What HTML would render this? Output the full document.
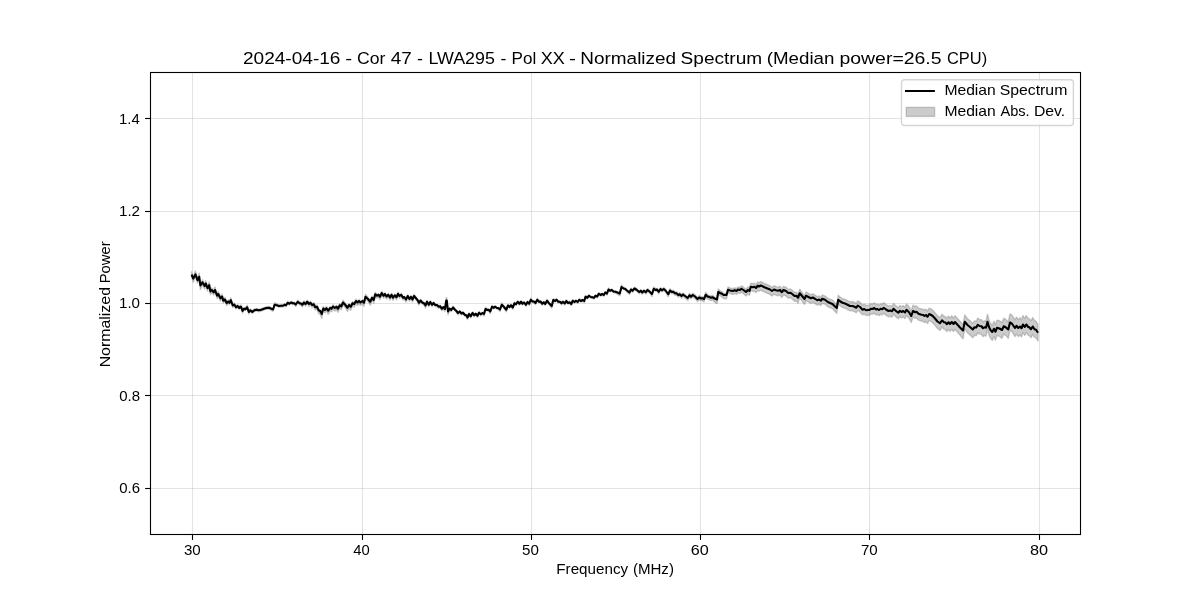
<!DOCTYPE html>
<html><head><meta charset="utf-8"><title>Normalized Spectrum</title><style>
html,body{margin:0;padding:0;background:#fff;width:1200px;height:600px;overflow:hidden}
svg{display:block;will-change:transform}
text{font-family:"Liberation Sans",sans-serif;fill:#000}
</style></head><body>
<svg width="1200" height="600" viewBox="0 0 1200 600">
<rect x="0" y="0" width="1200" height="600" fill="#fff"/>
<g stroke="#b0b0b0" stroke-opacity="0.35" stroke-width="1.1" fill="none">
<line x1="192.5" y1="72" x2="192.5" y2="535"/>
<line x1="362.5" y1="72" x2="362.5" y2="535"/>
<line x1="531.5" y1="72" x2="531.5" y2="535"/>
<line x1="700.5" y1="72" x2="700.5" y2="535"/>
<line x1="869.5" y1="72" x2="869.5" y2="535"/>
<line x1="1039.5" y1="72" x2="1039.5" y2="535"/>
<line x1="150" y1="118.5" x2="1081" y2="118.5"/>
<line x1="150" y1="211.5" x2="1081" y2="211.5"/>
<line x1="150" y1="303.5" x2="1081" y2="303.5"/>
<line x1="150" y1="395.5" x2="1081" y2="395.5"/>
<line x1="150" y1="488.5" x2="1081" y2="488.5"/>
</g>
<path d="M191.6,271.61 L193.3,277.23 L195.4,270.96 L197.5,278.19 L199.2,273.21 L200.4,284.71 L202.5,279.75 L204.6,284.08 L205.8,280.58 L207.5,286.31 L209.2,281.96 L210.4,289.94 L211.7,287.85 L213.75,290.26 L215,286.85 L217.1,294.12 L218.3,291.61 L220.4,296.73 L222.1,294.12 L223.3,299.18 L225,297.45 L226.7,302.05 L228.3,300.06 L229.5,301.32 L230.8,297.63 L232.75,304.67 L234.25,303.09 L236,306.3 L237.5,304.49 L239.25,306.88 L240,305.43 L241,304.98 L242.5,310.5 L244,307.62 L245.5,307.81 L247.2,305.21 L248.8,311.53 L250.3,309.09 L252.3,310.89 L254.3,309.03 L256.7,308.51 L258.7,309.3 L261.3,308.63 L264,307.55 L266.3,306.84 L269.3,306.47 L271.3,308.06 L273,309.1 L274.7,302.77 L276.7,303.75 L279,305.12 L281,304.82 L283,304.83 L284.5,303.69 L286,304.53 L287.75,301.3 L289.25,302.8 L291,301.21 L292.75,302.11 L294.25,302.26 L295.75,303.93 L297.75,300.08 L299.5,302.04 L301,302.52 L302.25,304.06 L304,301.03 L305.5,303.05 L307.25,300.06 L309,302.96 L310.5,301.18 L312,303.86 L313.75,302.58 L315.25,306.12 L317,304.93 L318.75,309.35 L320.25,309.93 L321.75,313.84 L323.25,306.38 L325,308.48 L326.5,306.52 L328.25,309.97 L330,306.43 L331.5,307.49 L333,304.68 L334.75,306.7 L336.5,305.23 L338,308.01 L339.75,303.58 L341.25,305.49 L343,300.26 L345,302.81 L347.5,307.02 L349,303.43 L350.75,305.9 L352.5,301.59 L354.25,302.83 L356,299.14 L357.5,301.29 L359,299.46 L360.5,301.42 L362.5,299.8 L364,302.39 L365.5,294.31 L368,297.55 L370.25,301.36 L372,296.26 L373.75,299.64 L375.25,292.24 L377,294.41 L378.5,293.58 L380,296.24 L381.75,291.2 L383.5,294.88 L385,292.62 L386.5,295.74 L388.25,293.41 L390,296.93 L391.5,293.23 L393,297.19 L394.75,294.03 L396.5,296.71 L398,292.11 L399.5,295.04 L401.25,293.34 L403,297.05 L404.25,296.02 L406,299.16 L407.75,294.41 L409.5,298.37 L411,295.54 L412.5,299.17 L414,294.28 L416,296.93 L417.5,299.28 L419,302.58 L420.5,299.11 L422.25,301.45 L424,302.57 L425.5,305.35 L427,300.23 L428.75,304.25 L430.25,300.66 L432,304.2 L433.5,301.78 L435.25,304.18 L437,304.07 L438.75,306.05 L440.25,305.21 L441.75,308.35 L443.5,306.77 L445,309.2 L446.2,297.67 L446.8,297.67 L448,312.47 L449.5,308.44 L451.25,309.38 L453,305.99 L455,308.75 L456.5,310.36 L458,312.66 L459.75,310.38 L461.5,312.85 L463,311.65 L464.75,313.95 L466.25,314.6 L467.5,317.43 L469,312.75 L470.75,315.84 L472.5,311.66 L474.25,314.62 L475.75,312.82 L477.5,315.47 L479,311.52 L480.75,313.56 L482.5,312.35 L484,313.92 L485.5,307.4 L487.25,308.88 L488.75,309.08 L490.25,311.57 L492,305.3 L493.5,306.8 L495.25,305.69 L497,307.2 L498.25,307.42 L500,309.46 L501.75,303 L504,306.09 L506.25,309.85 L508,304.18 L509.5,306.2 L511,304.28 L512.75,307.46 L514.5,302.03 L516,303.51 L517.75,300.51 L519.5,303.21 L521,300.6 L522.5,303.12 L524,301.53 L526,304.46 L527.5,301 L529.25,303.46 L530.75,298.24 L532.5,300.55 L534,300.85 L535.5,302.75 L537.25,298.31 L539,300.88 L540.5,300.59 L542.25,303.35 L543.75,301.38 L545.25,303.64 L547,299.29 L549,302.36 L551.75,306.45 L553.25,298.59 L555,299.95 L556.5,298.55 L558.25,301.04 L560,300.99 L561.5,302.76 L563,300.77 L564.75,303.06 L566.25,299.73 L568,302.29 L569.5,301.47 L571.25,303.78 L572.75,299.52 L574.5,301.24 L576,299.84 L577.75,301.53 L579.25,298.61 L581,300.29 L582.75,299.31 L584.25,300.81 L585.5,295.41 L587.25,296.99 L589,294.53 L590.75,296.16 L592.5,296.65 L594,297.27 L595.5,294.79 L597.25,295.97 L598.75,292.5 L600.5,294.25 L602.25,293.17 L603.75,294.54 L605.25,291.53 L607,293.11 L608.5,288.03 L610,289.79 L611.75,288.89 L613.5,290.7 L615.5,290.98 L617.5,292.06 L619.75,293.72 L621.5,285 L623.5,287.17 L625,287.85 L627,289.76 L629.5,292.15 L631,288.24 L632.5,289.98 L634.5,287.13 L636.5,288.59 L639.25,291.27 L640.75,289.48 L642.25,291.79 L644,289.55 L645.75,291.52 L647.5,288.56 L649.5,290.3 L652,293.98 L653.75,287.04 L655.5,288.64 L657,288.31 L658.75,291.24 L660.5,287.57 L662,289.17 L663.75,287.6 L665.5,289.14 L668.25,293.89 L670,288.68 L671.75,290.6 L673.25,290.31 L675,292 L676.5,291.81 L678.25,293.86 L679.75,292.73 L681.5,294.88 L683,292.81 L685,294.48 L687.75,297.01 L689.5,293.36 L691,295.34 L692.75,293.1 L695,294.77 L697.5,297.73 L699.25,295.53 L701,296.8 L702.5,296.73 L704,297.78 L705.75,292.19 L707.5,294.52 L709.25,295.27 L711,295.99 L712.5,295.25 L714.5,297.03 L717,298.65 L718.25,289.06 L720,290.53 L722,291.78 L723.5,293.12 L726.5,293.44 L728,287 L730,287.93 L732.75,288.69 L734.75,287.76 L736.5,288.65 L738,286.87 L740,287.42 L741.5,285.87 L743.75,287.43 L746,289.27 L748,286.93 L749.5,288.13 L750.75,283.22 L753,283.75 L754.5,283.25 L756,284.63 L757.75,281.97 L759,282.77 L760.75,281.62 L763,282.73 L765,283.75 L767.5,284.77 L770,285.78 L772,287.46 L774,285.73 L776,286.6 L778,287.16 L780,286.3 L781.75,288.88 L783.5,286.28 L786,287.35 L788.25,289.51 L790.5,288.96 L792.5,290.58 L794.5,292.5 L796.5,292.2 L798,294.45 L799.75,289.28 L802,292.35 L804.5,295.71 L806,291.97 L808.5,293.32 L810.75,294.75 L812.75,293.8 L815,295.11 L817.25,296.72 L819,295.88 L820.75,297.29 L822.25,295.01 L825,296.1 L827.5,298.12 L830,299.27 L832.5,300.12 L835,302.91 L836.75,304.69 L838.25,295.16 L840,296.98 L842.5,298.7 L845,299.31 L847.5,300.52 L850,301.76 L852.5,301.52 L854.5,302.33 L856.25,303.4 L857.75,300.74 L860,302.28 L862.5,305.12 L864.25,304.09 L866,305.46 L868,305.13 L869.5,305.08 L870.75,303.69 L872.5,304 L874.25,302.89 L876,304.59 L877.5,304.03 L879,305.15 L880.75,303.77 L882.25,304.34 L883.75,302.66 L886,304.6 L888.5,306.16 L890.25,305.61 L892,306.39 L893.5,303.48 L896,305.9 L898.25,307.73 L900,305.39 L901.5,306.73 L903.25,305.61 L905,307.22 L906.5,304.03 L909,306.68 L911.25,310.85 L913,305.11 L915,306.48 L916.5,306 L918.5,308.13 L921.5,308.98 L923.5,309.15 L924.5,310.28 L926,309.15 L927.5,311.16 L929.25,307.99 L932.5,309.9 L935,312.69 L937.5,315.76 L940,317.67 L942,314.13 L944,316.31 L945.5,316.59 L946.75,318.46 L948.5,316.12 L950,318.06 L951.75,315.78 L953.5,317.96 L955,315.65 L957.5,318.54 L960,321.19 L963,324.77 L964.75,314.83 L967.5,318.73 L970,320.62 L972.75,323.39 L974.5,320.88 L976.25,321.19 L977.75,318.12 L979.5,319.52 L981.5,319.72 L983,321.84 L984.5,320.73 L986,321.19 L987.5,314.15 L989,319.95 L990.5,323.29 L992.25,325.18 L994,321.31 L995.5,324.72 L997,320.11 L999.5,320.78 L1002,322.58 L1003.75,318.19 L1006,319.62 L1008.25,322 L1010,313.85 L1012,315.16 L1015,319.82 L1016.5,317.05 L1018.25,319.5 L1020,317.79 L1021.5,319.77 L1023,315.57 L1024.75,318.45 L1026.25,315.6 L1028,318.06 L1029.5,318.94 L1031,320.82 L1032.75,317.58 L1034.5,320.59 L1036,321.17 L1038,324.47 L1038,341.07 L1036,337.83 L1034.5,337.31 L1032.75,334.35 L1031,337.65 L1029.5,335.83 L1028,334.99 L1026.25,332.59 L1024.75,335.49 L1023,332.67 L1021.5,336.92 L1020,334.99 L1018.25,336.56 L1016.5,333.97 L1015,336.62 L1012,331.72 L1010,330.25 L1008.25,338.26 L1006,335.7 L1003.75,334.09 L1002,338.34 L999.5,336.36 L997,335.56 L995.5,340.1 L994,336.62 L992.25,340.39 L990.5,338.41 L989,335 L987.5,329.12 L986,336.09 L984.5,335.55 L983,336.59 L981.5,334.4 L979.5,334.1 L977.75,332.64 L976.25,335.66 L974.5,335.29 L972.75,337.74 L970,334.88 L967.5,332.89 L964.75,328.89 L963,338.78 L960,335.09 L957.5,332.3 L955,329.27 L953.5,331.5 L951.75,329.23 L950,331.41 L948.5,329.39 L946.75,331.63 L945.5,329.69 L944,329.33 L942,327.04 L940,330.47 L937.5,328.5 L935,325.35 L932.5,322.5 L929.25,320.51 L927.5,323.63 L926,321.57 L924.5,322.65 L923.5,321.47 L921.5,321.19 L918.5,320.18 L916.5,317.94 L915,318.34 L913,316.87 L911.25,322.52 L909,318.23 L906.5,315.47 L905,318.6 L903.25,316.9 L901.5,317.94 L900,316.54 L898.25,318.8 L896,316.88 L893.5,314.34 L892,317.18 L890.25,316.32 L888.5,316.82 L886,315.2 L883.75,313.2 L882.25,314.85 L880.75,314.24 L879,315.58 L877.5,314.42 L876,314.94 L874.25,313.2 L872.5,314.27 L870.75,313.91 L869.5,315.25 L868,315.22 L866,315.44 L864.25,313.97 L862.5,314.91 L860,311.93 L857.75,310.27 L856.25,312.85 L854.5,311.68 L852.5,310.76 L850,310.86 L847.5,309.53 L845,308.24 L842.5,307.53 L840,305.72 L838.25,303.84 L836.75,313.31 L835,311.47 L832.5,308.59 L830,307.65 L827.5,306.41 L825,304.3 L822.25,303.28 L820.75,305.59 L819,304.23 L817.25,305.1 L815,303.55 L812.75,302.29 L810.75,303.29 L808.5,301.92 L806,300.63 L804.5,304.4 L802,301.1 L799.75,298.08 L798,303.23 L796.5,300.97 L794.5,301.25 L792.5,299.31 L790.5,297.67 L788.25,298.19 L786,296.01 L783.5,294.91 L781.75,297.49 L780,294.9 L778,295.76 L776,295.2 L774,294.33 L772,296.06 L770,294.38 L767.5,293.38 L765,292.35 L763,291.33 L760.75,290.22 L759,291.24 L757.75,290.27 L756,292.71 L754.5,291.14 L753,291.44 L750.75,290.61 L749.5,295.36 L748,293.97 L746,296.05 L743.75,293.91 L741.5,292.07 L740,293.42 L738,292.79 L736.5,294.51 L734.75,293.55 L732.75,294.4 L730,293.53 L728,292.52 L726.5,298.9 L723.5,298.46 L722,297.06 L720,295.73 L718.25,294.15 L717,303.67 L714.5,301.9 L712.5,300 L711,300.65 L709.25,299.83 L707.5,298.97 L705.75,296.53 L704,302.02 L702.5,300.88 L701,300.86 L699.25,299.5 L697.5,301.65 L695,298.6 L692.75,296.87 L691,299.05 L689.5,297.02 L687.75,300.61 L685,297.99 L683,296.26 L681.5,298.28 L679.75,296.07 L678.25,297.15 L676.5,295.05 L675,295.18 L673.25,293.44 L671.75,293.68 L670,291.7 L668.25,296.86 L665.5,292.02 L663.75,290.42 L662,291.94 L660.5,290.29 L658.75,293.92 L657,290.97 L655.5,291.28 L653.75,289.66 L652,296.58 L649.5,292.86 L647.5,291.1 L645.75,294.03 L644,292.04 L642.25,294.25 L640.75,291.92 L639.25,293.69 L636.5,290.98 L634.5,289.49 L632.5,292.32 L631,290.56 L629.5,294.45 L627,292.02 L625,290.08 L623.5,289.38 L621.5,287.19 L619.75,295.88 L617.5,294.19 L615.5,293.09 L613.5,292.78 L611.75,290.95 L610,291.83 L608.5,290.04 L607,295.11 L605.25,293.5 L603.75,296.49 L602.25,295.1 L600.5,296.16 L598.75,294.4 L597.25,297.87 L595.5,296.69 L594,299.18 L592.5,298.56 L590.75,298.08 L589,296.45 L587.25,298.9 L585.5,297.33 L584.25,302.73 L582.75,301.23 L581,302.21 L579.25,300.53 L577.75,303.45 L576,301.77 L574.5,303.17 L572.75,301.45 L571.25,305.72 L569.5,303.41 L568,304.23 L566.25,301.67 L564.75,305.01 L563,302.71 L561.5,304.71 L560,302.94 L558.25,302.99 L556.5,300.5 L555,301.9 L553.25,300.54 L551.75,308.41 L549,304.32 L547,301.25 L545.25,305.61 L543.75,303.35 L542.25,305.32 L540.5,302.56 L539,302.85 L537.25,300.29 L535.5,304.73 L534,302.83 L532.5,302.54 L530.75,300.22 L529.25,305.45 L527.5,302.99 L526,306.46 L524,303.53 L522.5,305.11 L521,302.6 L519.5,305.21 L517.75,302.52 L516,305.52 L514.5,304.04 L512.75,309.48 L511,306.31 L509.5,308.24 L508,306.22 L506.25,311.9 L504,308.14 L501.75,305.06 L500,311.52 L498.25,309.49 L497,309.28 L495.25,307.77 L493.5,308.89 L492,307.4 L490.25,313.67 L488.75,311.18 L487.25,310.99 L485.5,309.52 L484,316.04 L482.5,314.47 L480.75,315.69 L479,313.66 L477.5,317.61 L475.75,314.97 L474.25,316.77 L472.5,313.82 L470.75,318.01 L469,314.92 L467.5,319.6 L466.25,316.78 L464.75,316.13 L463,313.84 L461.5,315.04 L459.75,312.58 L458,314.89 L456.5,312.6 L455,311.01 L453,308.28 L451.25,311.69 L449.5,310.77 L448,314.82 L446.8,300.03 L446.2,300.04 L445,311.58 L443.5,309.18 L441.75,310.78 L440.25,307.66 L438.75,308.51 L437,306.55 L435.25,306.69 L433.5,304.31 L432,306.75 L430.25,303.23 L428.75,306.84 L427,302.84 L425.5,307.98 L424,305.22 L422.25,304.13 L420.5,301.8 L419,305.3 L417.5,302.03 L416,299.71 L414,297.1 L412.5,302.02 L411,298.42 L409.5,301.28 L407.75,297.36 L406,302.14 L404.25,299.04 L403,300.09 L401.25,296.41 L399.5,298.15 L398,295.25 L396.5,299.88 L394.75,297.24 L393,300.43 L391.5,296.5 L390,300.23 L388.25,296.74 L386.5,299.11 L385,296.02 L383.5,298.31 L381.75,294.67 L380,299.74 L378.5,297.12 L377,298 L375.25,295.89 L373.75,303.33 L372,300 L370.25,305.16 L368,301.41 L365.5,298.24 L364,306.37 L362.5,303.83 L360.5,305.5 L359,303.59 L357.5,305.47 L356,303.36 L354.25,307.11 L352.5,305.91 L350.75,310.27 L349,307.83 L347.5,311.42 L345,307.21 L343,304.66 L341.25,309.89 L339.75,307.98 L338,312.41 L336.5,309.63 L334.75,311.1 L333,309.08 L331.5,311.89 L330,310.83 L328.25,314.37 L326.5,310.92 L325,312.88 L323.25,310.78 L321.75,318.24 L320.25,314.33 L318.75,313.64 L317,309.07 L315.25,310.11 L313.75,306.44 L312,307.58 L310.5,304.77 L309,306.42 L307.25,303.37 L305.5,306.22 L304,304.07 L302.25,306.95 L301,305.31 L299.5,304.72 L297.75,302.72 L295.75,306.52 L294.25,304.81 L292.75,304.63 L291,303.69 L289.25,305.23 L287.75,303.7 L286,306.88 L284.5,306 L283,307.11 L281,307.04 L279,307.33 L276.7,305.98 L274.7,305.03 L273,311.38 L271.3,310.36 L269.3,308.79 L266.3,309.2 L264,309.93 L261.3,311.04 L258.7,311.74 L256.7,310.97 L254.3,311.52 L252.3,313.4 L250.3,311.62 L248.8,314.08 L247.2,307.78 L245.5,310.4 L244,310.22 L242.5,313.11 L241,307.61 L240,308.07 L239.25,309.53 L237.5,307.16 L236,308.99 L234.25,305.87 L232.75,307.6 L230.8,300.75 L229.5,304.57 L228.3,303.43 L226.7,305.58 L225,301.15 L223.3,303.05 L222.1,298.11 L220.4,300.89 L218.3,295.98 L217.1,298.61 L215,291.55 L213.75,294.98 L211.7,292.6 L210.4,294.71 L209.2,286.75 L207.5,291.13 L205.8,285.43 L204.6,288.95 L202.5,284.65 L200.4,289.64 L199.2,278.16 L197.5,283.17 L195.4,275.97 L193.3,282.28 L191.6,276.69 Z" fill="#808080" fill-opacity="0.4" stroke="#808080" stroke-opacity="0.4" stroke-width="1.4" stroke-linejoin="round"/>
<path d="M191.6,274.6 L193.3,278.6 L195.4,274.4 L197.5,280.2 L199.2,276.8 L200.4,285.4 L202.5,282.3 L204.6,286 L205.8,283.5 L207.5,288.1 L209.2,285.2 L210.4,291.4 L211.7,290 L213.75,292.3 L215,290 L217.1,295.6 L218.3,294 L220.4,298.2 L222.1,296.5 L223.3,300.6 L225,299.5 L226.7,303.1 L228.3,301.6 L229.5,302.8 L230.8,300.2 L232.75,305.5 L234.25,304.5 L236,307.25 L237.5,306 L239.25,308 L240,307 L241,306.7 L242.5,310.8 L244,308.7 L245.5,309.2 L247.2,307.3 L248.8,312 L250.3,310.3 L252.3,311.8 L254.3,310.3 L256.7,309.8 L258.7,310.3 L261.3,309.7 L264,308.7 L266.3,308 L269.3,307.8 L271.3,308.7 L273,309.3 L274.7,304.7 L276.7,305.2 L279,306 L281,305.75 L283,305.75 L284.5,304.75 L286,305.25 L287.75,302.75 L289.25,303.75 L291,302.5 L292.75,303.25 L294.25,303.25 L295.75,304.5 L297.75,301.75 L299.5,303.25 L301,303.5 L302.25,304.75 L304,302.5 L305.5,304 L307.25,301.75 L309,304 L310.5,302.75 L312,305 L313.75,304.25 L315.25,307.25 L317,306.75 L318.75,310.5 L320.25,311 L321.75,314 L323.25,308.5 L325,310 L326.5,308.25 L328.25,310.75 L330,308 L331.5,308.75 L333,306.5 L334.75,308 L336.5,306.75 L338,308.75 L339.75,305.25 L341.25,306.5 L343,302.5 L345,304.5 L347.5,307.75 L349,305 L350.75,306.75 L352.5,303.25 L354.25,304 L356,301 L357.5,302.5 L359,301 L360.5,302.5 L362.5,301 L364,302.75 L365.5,296.75 L368,299 L370.25,301.75 L372,297.75 L373.75,300 L375.25,294.25 L377,295.75 L378.5,294.75 L380,296.75 L381.75,293 L383.5,295.75 L385,294 L386.5,296.5 L388.25,294.75 L390,297.5 L391.5,294.75 L393,297.75 L394.75,295.25 L396.5,297.25 L398,293.75 L399.5,296 L401.25,294.75 L403,297.75 L404.25,297 L406,299.5 L407.75,296 L409.5,299 L411,296.75 L412.5,299.5 L414,296 L416,298.25 L417.5,300 L419,302.75 L420.5,300.5 L422.25,302.5 L424,303.25 L425.5,305.5 L427,301.75 L428.75,304.75 L430.25,302 L432,304.75 L433.5,303 L435.25,305 L437,305 L438.75,306.75 L440.25,306.25 L441.75,308.75 L443.5,307 L445,309 L446.2,300.6 L446.8,300.6 L448,311.5 L449.5,308.5 L451.25,310 L453,307.5 L455,309.75 L456.5,311 L458,313 L459.75,311.5 L461.5,313.5 L463,312.75 L464.75,314.75 L466.25,315.25 L467.5,317.5 L469,314 L470.75,316.25 L472.5,313 L474.25,315.25 L475.75,313.75 L477.5,315.75 L479,312.75 L480.75,314.25 L482.5,313 L484,314 L485.5,309 L487.25,310 L488.75,309.75 L490.25,311.5 L492,306.75 L493.5,307.75 L495.25,306.75 L497,308 L498.25,308 L500,309.5 L501.75,304.75 L504,307 L506.25,309.75 L508,305.5 L509.5,307 L511,305.25 L512.75,307.5 L514.5,303.25 L516,304.25 L517.75,301.75 L519.5,303.75 L521,301.75 L522.5,303.75 L524,302.5 L526,304.75 L527.5,302 L529.25,303.75 L530.75,299.75 L532.5,301.5 L534,301.5 L535.5,303 L537.25,299.75 L539,301.75 L540.5,301.5 L542.25,303.75 L543.75,302.25 L545.25,304 L547,300.75 L549,303.25 L551.75,306 L553.25,300 L555,301 L556.5,299.75 L558.25,301.75 L560,301.75 L561.5,303.25 L563,301.75 L564.75,303.5 L566.25,301 L568,303 L569.5,302.25 L571.25,304 L572.75,300.75 L574.5,302 L576,300.75 L577.75,302 L579.25,299.75 L581,301 L582.75,300 L584.25,301 L585.5,296.75 L587.25,297.75 L589,295.75 L590.75,297 L592.5,297.25 L594,297.75 L595.5,295.75 L597.25,296.5 L598.75,293.75 L600.5,295 L602.25,294 L603.75,295 L605.25,292.5 L607,293.5 L608.5,289.5 L610,290.75 L611.75,290 L613.5,291.5 L615.5,291.75 L617.5,292.5 L619.75,293.5 L621.5,287 L623.5,288.5 L625,288.75 L627,290.5 L629.5,292.5 L631,289.5 L632.5,290.75 L634.5,288.5 L636.5,289.75 L639.25,292 L640.75,290.75 L642.25,292.5 L644,290.75 L645.75,292.25 L647.5,290 L649.5,291.5 L652,294 L653.75,288.75 L655.5,290 L657,289.5 L658.75,291.75 L660.5,289 L662,290.25 L663.75,289 L665.5,290.5 L668.25,294.25 L670,290.5 L671.75,292 L673.25,291.75 L675,293.25 L676.5,293.25 L678.25,295 L679.75,294.25 L681.5,296 L683,294.5 L685,296 L687.75,298 L689.5,295.25 L691,296.75 L692.75,295 L695,296.5 L697.5,299 L699.25,297.5 L701,298.5 L702.5,298.25 L704,299 L705.75,294.75 L707.5,296.5 L709.25,297 L711,297.75 L712.5,297.25 L714.5,298.5 L717,299.5 L718.25,292 L720,293 L722,293.75 L723.5,295 L726.5,295 L728,289.75 L730,290.5 L732.75,291 L734.75,290.25 L736.5,291 L738,289.5 L740,290 L741.5,288.75 L743.75,290.25 L746,292 L748,290 L749.5,291 L750.75,286.75 L753,287.25 L754.5,286.75 L756,288 L757.75,285.75 L759,286.5 L760.75,285.5 L763,286.5 L765,287.5 L767.5,288.5 L770,289.5 L772,291 L774,289.5 L776,290.25 L778,290.75 L780,290 L781.75,292.25 L783.5,290 L786,291 L788.25,293 L790.5,292.75 L792.5,294.25 L794.5,296 L796.5,295.75 L798,297.75 L799.75,293.25 L802,296 L804.5,299 L806,295.75 L808.5,297 L810.75,298.25 L812.75,297.5 L815,298.75 L817.25,300.25 L819,299.5 L820.75,300.75 L822.25,298.75 L825,299.75 L827.5,301.75 L830,303 L832.5,304 L835,306.5 L836.75,308 L838.25,299.75 L840,301.25 L842.5,302.75 L845,303.5 L847.5,304.75 L850,306 L852.5,306 L854.5,306.75 L856.25,307.75 L857.75,305.5 L860,307 L862.5,309.75 L864.25,309 L866,310.25 L868,310 L869.5,310 L870.75,308.75 L872.5,309 L874.25,308 L876,309.5 L877.5,309 L879,310 L880.75,308.75 L882.25,309.25 L883.75,307.75 L886,309.5 L888.5,311 L890.25,310.5 L892,311.25 L893.5,308.75 L896,311 L898.25,312.75 L900,310.75 L901.5,312 L903.25,311 L905,312.5 L906.5,309.75 L909,312.25 L911.25,316 L913,311 L915,312.25 L916.5,311.75 L918.5,313.75 L921.5,314.75 L923.5,315 L924.5,316 L926,315 L927.5,316.75 L929.25,314 L932.5,315.75 L935,318.5 L937.5,321.5 L940,323.25 L942,320.25 L944,322.25 L945.5,322.5 L946.75,324.25 L948.5,322.25 L950,324 L951.75,322 L953.5,324 L955,322 L957.5,324.75 L960,327.5 L963,330.5 L964.75,321.75 L967.5,325 L970,327 L972.75,329.5 L974.5,327.25 L976.25,327.5 L977.75,324.75 L979.5,326 L981.5,326.25 L983,328.25 L984.5,327.25 L986,327.75 L987.5,321.75 L989,327 L990.5,330 L992.25,332 L994,328.75 L995.5,331.75 L997,327.75 L999.5,328.5 L1002,330 L1003.75,326.25 L1006,327.5 L1008.25,329.5 L1010,322.5 L1012,323.75 L1015,328 L1016.5,325.75 L1018.25,328 L1020,326.5 L1021.5,328.25 L1023,324.5 L1024.75,327 L1026.25,324.5 L1028,326.75 L1029.5,327.5 L1031,329.25 L1032.75,326.5 L1034.5,329.25 L1036,329.75 L1038,332.75" fill="none" stroke="#000" stroke-width="2.1" stroke-linejoin="round" stroke-linecap="butt"/>
<rect x="150.5" y="72.5" width="930" height="462" fill="none" stroke="#000" stroke-width="1.1"/>
<g stroke="#000" stroke-width="1.1">
<line x1="192.5" y1="535" x2="192.5" y2="539.9"/>
<line x1="362.5" y1="535" x2="362.5" y2="539.9"/>
<line x1="531.5" y1="535" x2="531.5" y2="539.9"/>
<line x1="700.5" y1="535" x2="700.5" y2="539.9"/>
<line x1="869.5" y1="535" x2="869.5" y2="539.9"/>
<line x1="1039.5" y1="535" x2="1039.5" y2="539.9"/>
<line x1="145.1" y1="118.5" x2="150" y2="118.5"/>
<line x1="145.1" y1="211.5" x2="150" y2="211.5"/>
<line x1="145.1" y1="303.5" x2="150" y2="303.5"/>
<line x1="145.1" y1="395.5" x2="150" y2="395.5"/>
<line x1="145.1" y1="488.5" x2="150" y2="488.5"/>
</g>
<rect x="901.5" y="79.75" width="171.9" height="45.8" rx="3" ry="3" fill="#fff" fill-opacity="0.8" stroke="#cccccc" stroke-opacity="0.8" stroke-width="1.4"/>
<line x1="905" y1="91.0" x2="934.9" y2="91.0" stroke="#000" stroke-width="2"/>
<rect x="906.2" y="107.4" width="28.4" height="9.0" fill="#808080" fill-opacity="0.4" stroke="#808080" stroke-opacity="0.4" stroke-width="1.4"/>
<text x="242.97" y="64.0" font-size="16.9" textLength="97.51" lengthAdjust="spacingAndGlyphs">2024-04-16</text>
<text x="345.17" y="64.0" font-size="16.9" textLength="6.89" lengthAdjust="spacingAndGlyphs">-</text>
<text x="356.98" y="64.0" font-size="16.9" textLength="28.39" lengthAdjust="spacingAndGlyphs">Cor</text>
<text x="390.79" y="64.0" font-size="16.9" textLength="21.03" lengthAdjust="spacingAndGlyphs">47</text>
<text x="417.07" y="64.0" font-size="16.9" textLength="5.94" lengthAdjust="spacingAndGlyphs">-</text>
<text x="428.43" y="64.0" font-size="16.9" textLength="66.49" lengthAdjust="spacingAndGlyphs">LWA295</text>
<text x="500.52" y="64.0" font-size="16.9" textLength="5.90" lengthAdjust="spacingAndGlyphs">-</text>
<text x="511.63" y="64.0" font-size="16.9" textLength="24.66" lengthAdjust="spacingAndGlyphs">Pol</text>
<text x="540.84" y="64.0" font-size="16.9" textLength="24.10" lengthAdjust="spacingAndGlyphs">XX</text>
<text x="568.94" y="64.0" font-size="16.9" textLength="6.95" lengthAdjust="spacingAndGlyphs">-</text>
<text x="580.33" y="64.0" font-size="16.9" textLength="95.76" lengthAdjust="spacingAndGlyphs">Normalized</text>
<text x="680.59" y="64.0" font-size="16.9" textLength="81.57" lengthAdjust="spacingAndGlyphs">Spectrum</text>
<text x="766.71" y="64.0" font-size="16.9" textLength="67.72" lengthAdjust="spacingAndGlyphs">(Median</text>
<text x="839.52" y="64.0" font-size="16.9" textLength="101.98" lengthAdjust="spacingAndGlyphs">power=26.5</text>
<text x="947.00" y="64.0" font-size="16.9" textLength="40.17" lengthAdjust="spacingAndGlyphs">CPU)</text>
<text x="183.95" y="555" font-size="14.1" textLength="16.81" lengthAdjust="spacingAndGlyphs">30</text>
<text x="353.23" y="555" font-size="14.1" textLength="16.47" lengthAdjust="spacingAndGlyphs">40</text>
<text x="521.98" y="555" font-size="14.1" textLength="16.84" lengthAdjust="spacingAndGlyphs">50</text>
<text x="690.87" y="555" font-size="14.1" textLength="18.02" lengthAdjust="spacingAndGlyphs">60</text>
<text x="860.98" y="555" font-size="14.1" textLength="16.78" lengthAdjust="spacingAndGlyphs">70</text>
<text x="1029.93" y="555" font-size="14.1" textLength="18.11" lengthAdjust="spacingAndGlyphs">80</text>
<text x="119.02" y="124.0" font-size="14.1" textLength="20.73" lengthAdjust="spacingAndGlyphs">1.4</text>
<text x="118.96" y="216.0" font-size="14.1" textLength="21.07" lengthAdjust="spacingAndGlyphs">1.2</text>
<text x="118.96" y="308.0" font-size="14.1" textLength="21.07" lengthAdjust="spacingAndGlyphs">1.0</text>
<text x="119.18" y="401.0" font-size="14.1" textLength="20.88" lengthAdjust="spacingAndGlyphs">0.8</text>
<text x="119.18" y="493.0" font-size="14.1" textLength="20.85" lengthAdjust="spacingAndGlyphs">0.6</text>
<text x="556.29" y="574.0" font-size="14.1" textLength="71.83" lengthAdjust="spacingAndGlyphs">Frequency</text>
<text x="632.92" y="574.0" font-size="14.1" textLength="41.02" lengthAdjust="spacingAndGlyphs">(MHz)</text>
<text x="944.42" y="95.0" font-size="14.1" textLength="51.36" lengthAdjust="spacingAndGlyphs">Median</text>
<text x="999.65" y="95.0" font-size="14.1" textLength="67.66" lengthAdjust="spacingAndGlyphs">Spectrum</text>
<text x="944.42" y="116.0" font-size="14.1" textLength="51.36" lengthAdjust="spacingAndGlyphs">Median</text>
<text x="1000.48" y="116.0" font-size="14.1" textLength="29.20" lengthAdjust="spacingAndGlyphs">Abs.</text>
<text x="1033.92" y="116.0" font-size="14.1" textLength="31.24" lengthAdjust="spacingAndGlyphs">Dev.</text>
<text transform="translate(110.0,367.37) rotate(-90)" font-size="14.1" textLength="80.36" lengthAdjust="spacingAndGlyphs">Normalized</text>
<text transform="translate(110.0,283.26) rotate(-90)" font-size="14.1" textLength="41.90" lengthAdjust="spacingAndGlyphs">Power</text>
</svg>
</body></html>
